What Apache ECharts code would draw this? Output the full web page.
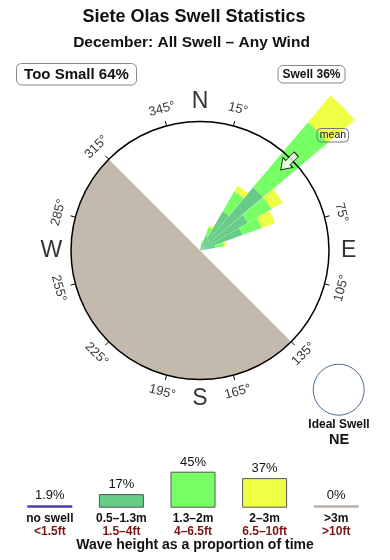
<!DOCTYPE html>
<html>
<head>
<meta charset="utf-8">
<script src="https://cdn.jsdelivr.net/npm/echarts@6/dist/echarts.min.js"></script>
<style>
html,body{margin:0;padding:0;background:#fff;}
#chart{width:390px;height:560px;}
</style>
</head>
<body>
<div id="chart"></div>
<script>
// ---------------- data ----------------
const titleText = 'Siete Olas Swell Statistics';
const subtitleText = 'December: All Swell – Any Wind';
const tooSmallLabel = 'Too Small 64%';
const swellLabel = 'Swell 36%';
const idealSwellDir = 'NE';

// direction bins, 10° wide, centred on 5°, 15°, ... 355°
const dirBins = ['5','15','25','35','45','55','65','75','85','95','105','115',
  '125','135','145','155','165','175','185','195','205','215','225','235',
  '245','255','265','275','285','295','305','315','325','335','345','355'];
// stacked rose segments (radial units, circle = 10)
const rose05to13 = [0,0.5,1.2,3.5,6.4,4.3,3.5,1.2,0,0,0,0, 0,0,0,0,0,0,0,0,0,0,0,0, 0,0,0,0,0,0,0,0,0,0,0,0];
const rose13to2  = [0,0.3,0.7,1.8,6.6,2.1,1.6,0.7,0,0,0,0, 0,0,0,0,0,0,0,0,0,0,0,0, 0,0,0,0,0,0,0,0,0,0,0,0];
const rose2to3   = [0,0,0.2,0.5,2.7,1.0,1.1,0.2,0,0,0,0, 0,0,0,0,0,0,0,0,0,0,0,0, 0,0,0,0,0,0,0,0,0,0,0,0];
const roseOver3  = [0,0,0,0,0,0,0,0,0,0,0,0, 0,0,0,0,0,0,0,0,0,0,0,0, 0,0,0,0,0,0,0,0,0,0,0,0];
const meanDir = 45;

// compass tick labels
const degreeLabelAngles = [15,75,105,135,165,195,225,255,285,315,345];
const cardinalLabels = ['N','E','S','W'];
const cardinalAngles = [0,90,180,270];

// wave-height legend
const legendCats = ['no swell','0.5–1.3m','1.3–2m','2–3m','>3m'];
const legendFeet = ['<1.5ft','1.5–4ft','4–6.5ft','6.5–10ft','>10ft'];
const legendPct = [1.9,17,45,37,0];
const legendPctLabels = ['1.9%','17%','45%','37%','0%'];
const captionText = 'Wave height as a proportion of time';

// ---------------- styles ----------------
const FONT = '"Liberation Sans", Arial, Helvetica, sans-serif';
const cNoSwell = '#4a3fb5', cSmall = '#66cc88', cMid = '#77ff66', cLarge = '#eeff44', cXL = '#b8b0a8';
const legendColors = [cNoSwell, cSmall, cMid, cLarge, cXL];
const CX = 200, CY = 250.5, R = 129;

function labelRot(a){ // returns ECharts rotate (ccw positive)
  let cw = (a > 90 && a < 270) ? a - 180 : (a >= 270 ? a - 360 : a);
  return -cw;
}

const chart = echarts.init(document.getElementById('chart'), null, {renderer:'canvas'});

const option = {
  animation: false,
  textStyle: {fontFamily: FONT},
  polar: [
    {center:[CX, CY], radius: R},
    {center:[CX, CY], radius: R * 1.65}
  ],
  angleAxis: [
    {polarIndex:0, type:'value', min:-15, max:345, interval:30, startAngle:105, clockwise:true, z:5,
      axisLine:{show:true, lineStyle:{color:'#000', width:1.5}},
      axisTick:{show:true, inside:false, length:5, lineStyle:{color:'#000', width:1}},
      axisLabel:{show:false}, splitLine:{show:false}, minorTick:{show:false}},
    {polarIndex:1, type:'category', data:dirBins, startAngle:90, clockwise:true, boundaryGap:true, show:false}
  ],
  radiusAxis: [
    {polarIndex:0, type:'value', min:0, max:1, show:false},
    {polarIndex:1, type:'value', min:0, max:16.5, show:false}
  ],
  grid: {left:14, right:18, top:467.7, height:40},
  xAxis: {type:'category', data:legendCats,
    axisLine:{show:false}, axisTick:{show:false},
    axisLabel:{interval:0, margin:5,
      formatter:(v,i)=>'{a|'+v+'}\n{b|'+legendFeet[i]+'}',
      rich:{
        a:{fontFamily:FONT, fontSize:12, fontWeight:'bold', color:'#111', lineHeight:12.5},
        b:{fontFamily:FONT, fontSize:12, fontWeight:'bold', color:'#7a1616', lineHeight:12.5}
      }}},
  yAxis: {type:'value', min:0, max:50, show:false},
  series: [
    {type:'pie', center:[CX, CY], radius:R, startAngle:-45, clockwise:true, silent:true, z:1,
      label:{show:false}, labelLine:{show:false}, emphasis:{disabled:true},
      itemStyle:{borderWidth:0},
      data:[{value:180, itemStyle:{color:'#c4b9ad'}}, {value:180, itemStyle:{color:'rgba(0,0,0,0)'}}]},
    {type:'bar', name:'0.5–1.3m', coordinateSystem:'polar', polarIndex:1, stack:'rose', data:rose05to13,
      barCategoryGap:'2%', itemStyle:{color:cSmall}, silent:true, z:2},
    {type:'bar', name:'1.3–2m', coordinateSystem:'polar', polarIndex:1, stack:'rose', data:rose13to2,
      barCategoryGap:'2%', itemStyle:{color:cMid}, silent:true, z:2},
    {type:'bar', name:'2–3m', coordinateSystem:'polar', polarIndex:1, stack:'rose', data:rose2to3,
      barCategoryGap:'2%', itemStyle:{color:cLarge}, silent:true, z:2},
    {type:'bar', name:'>3m', coordinateSystem:'polar', polarIndex:1, stack:'rose', data:roseOver3,
      barCategoryGap:'2%', itemStyle:{color:cXL}, silent:true, z:2},
    // degree labels
    {type:'scatter', coordinateSystem:'polar', polarIndex:0, symbolSize:1, clip:false, silent:true, z:6,
      itemStyle:{color:'rgba(0,0,0,0)'},
      label:{show:true, position:'inside', formatter:p=>p.name, fontFamily:FONT, fontSize:13, color:'#000'},
      data: degreeLabelAngles.map(a=>({name:a+'°', value:[1.135, a], label:{rotate:labelRot(a)}}))},
    // cardinal letters
    {type:'scatter', coordinateSystem:'polar', polarIndex:0, symbolSize:1, clip:false, silent:true, z:6,
      itemStyle:{color:'rgba(0,0,0,0)'},
      label:{show:true, position:'inside', formatter:p=>p.name, fontFamily:FONT, fontSize:23, color:'#000'},
      data: cardinalLabels.map((c,i)=>({name:c, value:[1.152, cardinalAngles[i]]}))},
    // mean direction arrow
    {type:'scatter', coordinateSystem:'polar', polarIndex:0, clip:false, silent:true, z:10,
      symbol:'path://M-4,-13 L4,-13 L4,1 L9,1 L0,13 L-9,1 L-4,1 Z', symbolSize:[14,22], symbolRotate:-meanDir,
      itemStyle:{color:'#fff', borderColor:'#000', borderWidth:1},
      data:[[0.97, meanDir]]},
    // wave height legend bars
    {type:'bar', xAxisIndex:0, yAxisIndex:0, barWidth:45, barMinHeight:2.5, silent:true,
      label:{show:true, position:'top', distance:3, formatter:p=>legendPctLabels[p.dataIndex],
        fontFamily:FONT, fontSize:13, color:'#111'},
      data: legendPct.map((v,i)=>({value:v, itemStyle:{color:legendColors[i],
        borderColor:(i>=1 && i<=3)?'#555':legendColors[i], borderWidth:(i>=1 && i<=3)?1:0}}))}
  ],
  graphic: [
    {type:'text', x:194, y:17, style:{text:titleText, font:'bold 18px '+FONT, fill:'#111', align:'center', verticalAlign:'middle'}},
    {type:'text', x:191.5, y:42.7, style:{text:subtitleText, font:'bold 15.5px '+FONT, fill:'#111', align:'center', verticalAlign:'middle'}},
    {type:'rect', shape:{x:16.5, y:63.5, width:120, height:21.5, r:5}, style:{fill:'#fff', stroke:'#888', lineWidth:1}},
    {type:'text', x:76.5, y:74.5, style:{text:tooSmallLabel, font:'bold 15px '+FONT, fill:'#111', align:'center', verticalAlign:'middle'}},
    {type:'rect', shape:{x:278, y:65.5, width:67, height:17.5, r:5}, style:{fill:'#fff', stroke:'#888', lineWidth:1}},
    {type:'text', x:311.5, y:74.5, style:{text:swellLabel, font:'bold 12px '+FONT, fill:'#111', align:'center', verticalAlign:'middle'}},
    {type:'rect', z:20, shape:{x:317, y:128.5, width:31.5, height:13.5, r:4}, style:{fill:'rgba(0,0,0,0)', stroke:'#777', lineWidth:1}},
    {type:'text', z:20, x:333, y:135.5, style:{text:'mean', font:'10.5px '+FONT, fill:'#111', align:'center', verticalAlign:'middle'}},
    {type:'circle', shape:{cx:338.7, cy:389.7, r:25.5}, style:{fill:'none', stroke:'#4a6a8f', lineWidth:1}},
    {type:'text', x:339, y:425, style:{text:'Ideal Swell', font:'bold 12px '+FONT, fill:'#111', align:'center', verticalAlign:'middle'}},
    {type:'text', x:339, y:440, style:{text:idealSwellDir, font:'bold 14.5px '+FONT, fill:'#111', align:'center', verticalAlign:'middle'}},
    {type:'text', x:195, y:545, style:{text:captionText, font:'bold 14px '+FONT, fill:'#111', align:'center', verticalAlign:'middle'}}
  ]
};
chart.setOption(option);
</script>
</body>
</html>
